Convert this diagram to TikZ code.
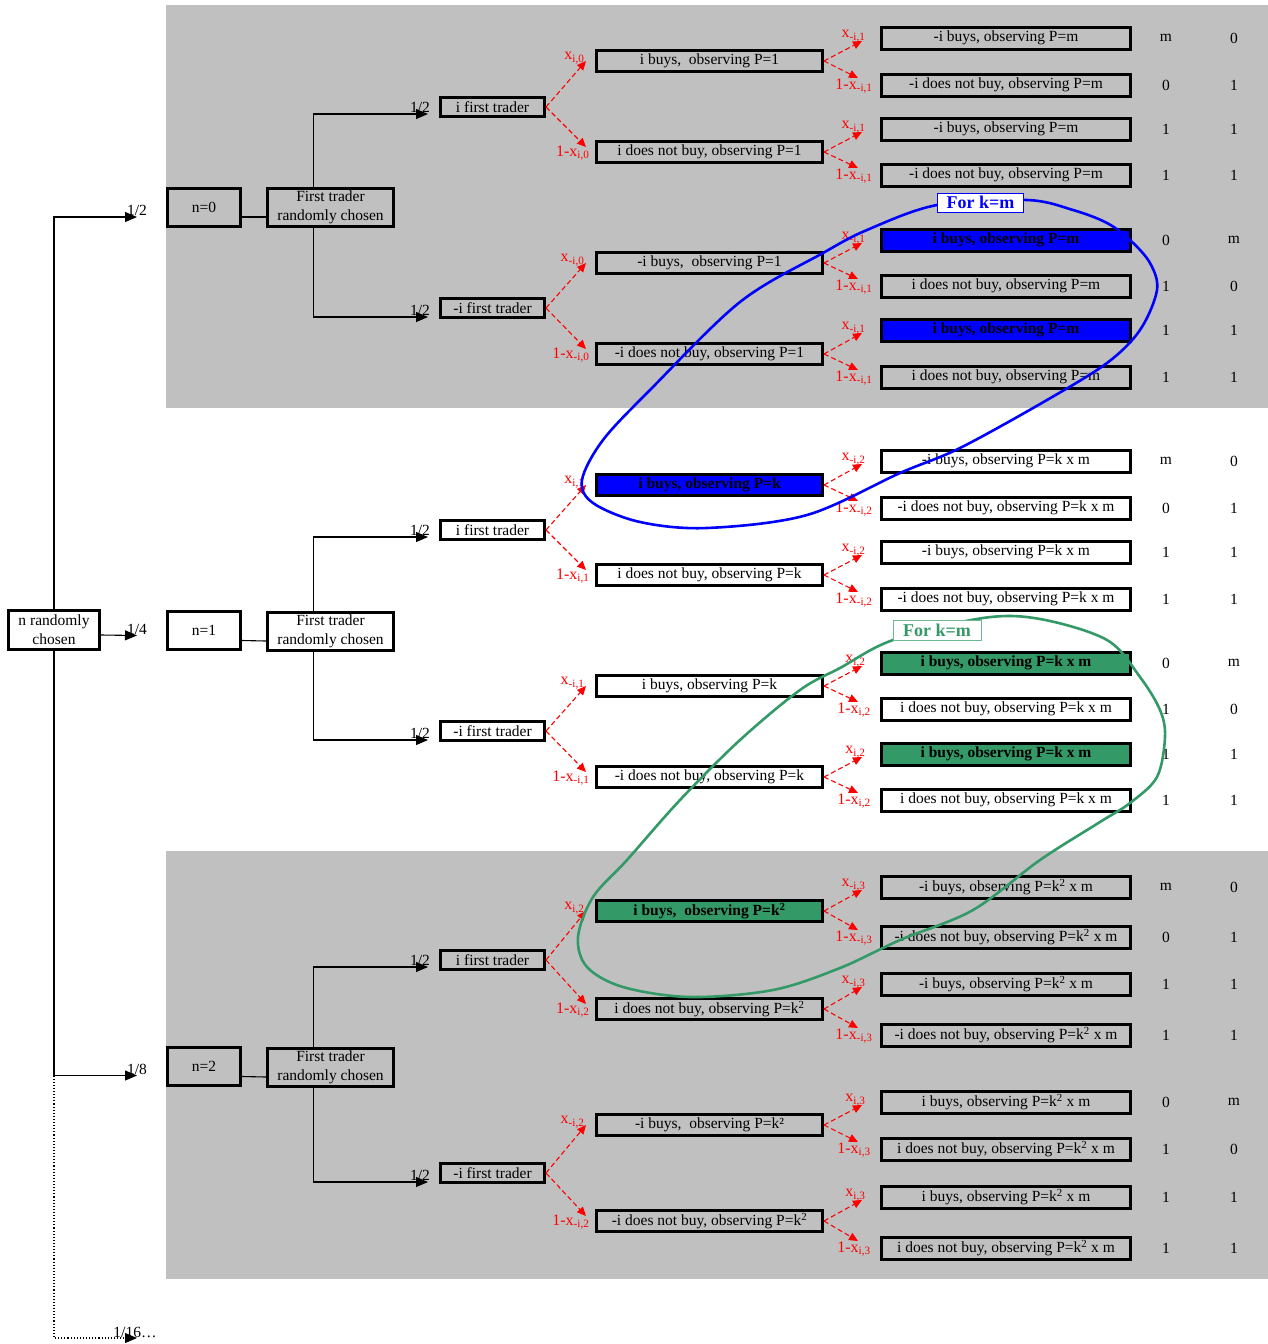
\documentclass[tikz,border=0pt]{standalone}
\usepackage{fontspec}
\setmainfont{Liberation Serif}
\usetikzlibrary{arrows.meta,positioning}

\definecolor{panelgray}{RGB}{192,192,192}
\definecolor{seagreen}{RGB}{51,153,102}

\begin{document}
\begin{tikzpicture}[
    x=1pt, y=-1pt,
    font=\fontsize{15.5}{19}\selectfont,
    box/.style={draw, line width=3pt, inner sep=0pt, align=center},
    rootbox/.style={box, minimum width=91pt, minimum height=39pt},
    nbox/.style={box, minimum width=73pt, minimum height=38pt},
    ftbox/.style={box, minimum width=126pt, minimum height=38pt},
    ibox/.style={box, minimum width=104pt, minimum height=19pt},
    midbox/.style={box, minimum width=226pt, minimum height=21pt},
    leaf/.style={box, minimum width=249pt, minimum height=22pt},
    hot/.style={font=\fontsize{15.5}{19}\selectfont\bfseries},
    midblue/.style={midbox, hot, fill=blue},
    leafblue/.style={leaf, hot, fill=blue},
    midgreen/.style={midbox, hot, fill=seagreen},
    leafgreen/.style={leaf, hot, fill=seagreen},
    pay/.style={inner sep=0pt},
    link/.style={line width=1.1pt},
    arr/.style={link, -{Triangle[length=12pt,width=10pt]}},
    prob/.style={red, line width=1.1pt, dash pattern=on 5pt off 3pt, -{Triangle[length=9pt,width=8pt]}},
    plab/.style={red, inner sep=0pt, font=\fontsize{16}{18}\selectfont},
    uplab/.style={plab, anchor=east, xshift=4pt, yshift=5pt},
    downlab/.style={plab, anchor=north, xshift=-4pt},
    fraclab/.style={inner sep=0pt, anchor=south},
    tag/.style={fill=white, line width=1pt, inner sep=0pt, font=\fontsize{18}{20}\selectfont\bfseries}
  ]

  % shaded panels for n=0 and n=2
  \fill[panelgray] (166,5) rectangle (1268,408);
  \fill[panelgray] (166,851) rectangle (1268,1279);
  \useasboundingbox (0,0) rectangle (1268,1344);

  \node[rootbox] (root) at (54,630) {n randomly\\chosen};

  % n=0
  \node[nbox] (n0) at (204,207) {n=0};
  \node[ftbox] (ft0) at (330.5,207) {First trader\\randomly chosen};
  \node[ibox] (a0) at (492.5,107) {i first trader};
  \node[ibox] (b0) at (492.5,308) {-i first trader};
  \node[midbox] (a0u) at (709.5,61) {i buys,~ observing P=1};
  \node[midbox] (a0d) at (709.5,152) {i does not buy, observing P=1};
  \node[midbox] (b0u) at (709.5,263) {-i buys,~ observing P=1};
  \node[midbox] (b0d) at (709.5,354) {-i does not buy, observing P=1};
  \foreach \i/\y/\s/\t/\p/\q in {
      1/38/leaf/{-i buys, observing P=m}/m/0,
      2/85/leaf/{-i does not buy, observing P=m}/0/1,
      3/129/leaf/{-i buys, observing P=m}/1/1,
      4/175/leaf/{-i does not buy, observing P=m}/1/1,
      5/240/leafblue/{i buys, observing P=m}/0/m,
      6/286/leaf/{i does not buy, observing P=m}/1/0,
      7/330/leafblue/{i buys, observing P=m}/1/1,
      8/377/leaf/{i does not buy, observing P=m}/1/1}{
    \node[\s] (l0-\i) at (1006,\y) {\t};
    \node[pay] (p0-\i) at (1166,\y) {\p};
    \node[pay] (q0-\i) at (1234,\y) {\q};
  }

  % n=1
  \node[nbox] (n1) at (204,630.5) {n=1};
  \node[ftbox] (ft1) at (330.5,631) {First trader\\randomly chosen};
  \node[ibox] (a1) at (492.5,530) {i first trader};
  \node[ibox] (b1) at (492.5,731) {-i first trader};
  \node[midblue] (a1u) at (709.5,485) {i buys, observing P=k};
  \node[midbox] (a1d) at (709.5,575) {i does not buy, observing P=k};
  \node[midbox] (b1u) at (709.5,686) {i buys, observing P=k};
  \node[midbox] (b1d) at (709.5,777) {-i does not buy, observing P=k};
  \foreach \i/\y/\s/\t/\p/\q in {
      1/461/leaf/{-i buys, observing P=k x m}/m/0,
      2/508/leaf/{-i does not buy, observing P=k x m}/0/1,
      3/552/leaf/{-i buys, observing P=k x m}/1/1,
      4/599/leaf/{-i does not buy, observing P=k x m}/1/1,
      5/663/leafgreen/{i buys, observing P=k x m}/0/m,
      6/709/leaf/{i does not buy, observing P=k x m}/1/0,
      7/754/leafgreen/{i buys, observing P=k x m}/1/1,
      8/800/leaf/{i does not buy, observing P=k x m}/1/1}{
    \node[\s] (l1-\i) at (1006,\y) {\t};
    \node[pay] (p1-\i) at (1166,\y) {\p};
    \node[pay] (q1-\i) at (1234,\y) {\q};
  }

  % n=2
  \node[nbox] (n2) at (204,1066.5) {n=2};
  \node[ftbox] (ft2) at (330.5,1067) {First trader\\randomly chosen};
  \node[ibox] (a2) at (492.5,960) {i first trader};
  \node[ibox] (b2) at (492.5,1173) {-i first trader};
  \node[midgreen] (a2u) at (709.5,911) {i buys,~ observing P=k\textsuperscript{2}};
  \node[midbox] (a2d) at (709.5,1009) {i does not buy, observing P=k\textsuperscript{2}};
  \node[midbox] (b2u) at (709.5,1125) {-i buys,~ observing P=k²};
  \node[midbox] (b2d) at (709.5,1221) {-i does not buy, observing P=k\textsuperscript{2}};
  \foreach \i/\y/\s/\t/\p/\q in {
      1/887/leaf/{-i buys, observing P=k\textsuperscript{2} x m}/m/0,
      2/937/leaf/{-i does not buy, observing P=k\textsuperscript{2} x m}/0/1,
      3/984/leaf/{-i buys, observing P=k\textsuperscript{2} x m}/1/1,
      4/1035/leaf/{-i does not buy, observing P=k\textsuperscript{2} x m}/1/1,
      5/1102/leaf/{i buys, observing P=k\textsuperscript{2} x m}/0/m,
      6/1149/leaf/{i does not buy, observing P=k\textsuperscript{2} x m}/1/0,
      7/1197/leaf/{i buys, observing P=k\textsuperscript{2} x m}/1/1,
      8/1248/leaf/{i does not buy, observing P=k\textsuperscript{2} x m}/1/1}{
    \node[\s] (l2-\i) at (1006,\y) {\t};
    \node[pay] (p2-\i) at (1166,\y) {\p};
    \node[pay] (q2-\i) at (1234,\y) {\q};
  }

  % chance of n
  \coordinate (fork) at (54,1075.5);
  \coordinate (more) at (137,1338);
  \draw[arr] (root.north) |- ([xshift=-29pt,yshift=-10pt]n0.west) node[fraclab, yshift=1pt] {1/2};
  \draw[arr] ([yshift=-5pt]root.east) -- ([xshift=-29pt,yshift=-5pt]n1.west) node[fraclab] {1/4};
  \draw[arr] (root.south) |- ([xshift=-29pt,yshift=-9pt]n2.west) node[fraclab] {1/8};
  \draw[arr, dotted] (fork) |- (more) node[fraclab, xshift=-2pt] {1/16\ldots};

  % who moves first
  \foreach \k in {0,1,2}{
    \draw[link] ([yshift=-10pt]n\k.east) -- ([yshift=-10pt]ft\k.west);
    \draw[arr] ([xshift=-17pt]ft\k.north) |- ([xshift=-11pt,yshift=-7pt]a\k.west) node[fraclab, xshift=-8pt, yshift=1pt] {1/2};
    \draw[arr] ([xshift=-17pt]ft\k.south) |- ([xshift=-11pt,yshift=-9pt]b\k.west) node[fraclab, xshift=-8pt, yshift=1pt] {1/2};
  }

  % first move
  \foreach \f/\u/\d/\s in {a0/a0u/a0d/{i,0}, b0/b0u/b0d/{-i,0}, a1/a1u/a1d/{i,1},
      b1/b1u/b1d/{-i,1}, a2/a2u/a2d/{i,2}, b2/b2u/b2d/{-i,2}}{
    \draw[prob] (\f.east) -- ([xshift=-9pt]\u.west)
      node[plab, anchor=east, xshift=-1pt, yshift=3pt] {x\textsubscript{\s}};
    \draw[prob] (\f.east) -- ([xshift=-9pt,yshift=5pt]\d.west)
      node[plab, anchor=north east, xshift=4pt, yshift=2pt] {1-x\textsubscript{\s}};
  }

  % second move
  \foreach \m/\u/\d/\s in {a0u/l0-1/l0-2/{-i,1}, a0d/l0-3/l0-4/{-i,1}, b0u/l0-5/l0-6/{-i,1},
      b0d/l0-7/l0-8/{-i,1}, a1u/l1-1/l1-2/{-i,2}, a1d/l1-3/l1-4/{-i,2}, b1u/l1-5/l1-6/{i,2},
      b1d/l1-7/l1-8/{i,2}, a2u/l2-1/l2-2/{-i,3}, a2d/l2-3/l2-4/{-i,3}, b2u/l2-5/l2-6/{i,3},
      b2d/l2-7/l2-8/{i,3}}{
    \draw[prob] (\m.east) -- ([xshift=-18pt,yshift=-3pt]\u.west) node[uplab] {x\textsubscript{\s}};
    \draw[prob] (\m.east) -- ([xshift=-22pt,yshift=7pt]\d.west) node[downlab] {1-x\textsubscript{\s}};
  }

  % highlighted paths
  \draw[blue, line width=2.6pt] plot[smooth cycle, tension=0.55] coordinates {
    (1027,200) (1073,210) (1107,223) (1130,240) (1150,263) (1157,290) (1140,330)
    (1107,363) (1047,400) (960,448) (900,473) (807,515) (707,528) (640,522)
    (593,503) (582,480) (603,440) (650,390) (740,302) (823,253) (867,230) (937,205)};
  \node[tag, draw=blue, text=blue, minimum width=86pt, minimum height=19pt] (forblue) at (980.5,202.5) {For k=m};

  \draw[seagreen, line width=2.6pt] plot[smooth cycle, tension=0.55] coordinates {
    (983,618) (1040,619) (1107,640) (1140,677) (1160,710) (1165,737) (1157,777)
    (1130,803) (1100,822) (1040,860) (973,910) (900,940) (840,968) (773,990)
    (690,997) (623,987) (587,967) (578,937) (593,897) (627,860) (680,800)
    (740,740) (800,690) (840,668) (893,640)};
  \node[tag, draw=seagreen!70, text=seagreen, minimum width=88pt, minimum height=20pt] (forgreen) at (937,630) {For k=m};

\end{tikzpicture}
\end{document}
